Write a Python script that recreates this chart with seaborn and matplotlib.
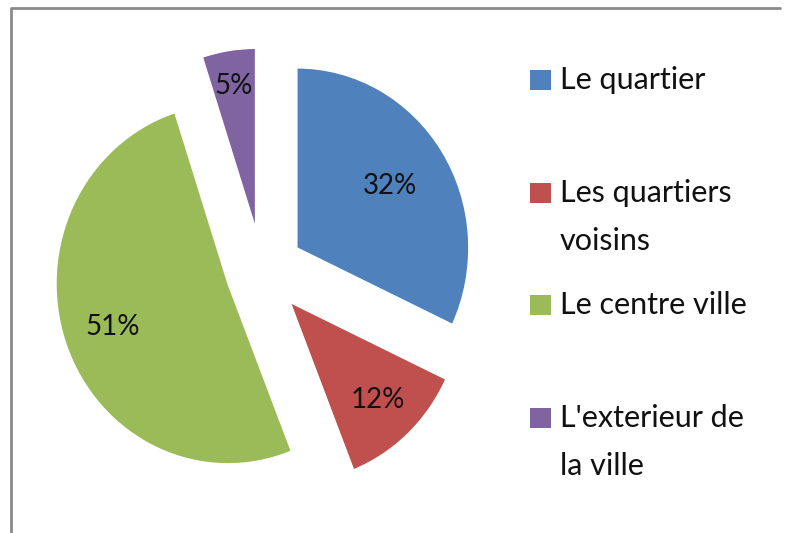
import numpy as np
import seaborn as sns
import matplotlib.pyplot as plt
from matplotlib.lines import Line2D
from matplotlib.patches import Rectangle

sns.set_style("white")
plt.rcParams['font.family'] = ['Lato', 'DejaVu Sans']

# data
labels = ["Le quartier", "Les quartiers\nvoisins", "Le centre ville", "L'exterieur de\nla ville"]
shares = [32, 12, 51, 5]
colors = ["#4F81BD", "#C0504D", "#9BBB59", "#8064A2"]

W, H = 787, 533
fig = plt.figure(figsize=(W / 100, H / 100), dpi=100)
ax = fig.add_axes([0, 0, 1, 1])

wedges, texts, autotexts = ax.pie(shares, colors=colors, startangle=90, counterclock=False,
                                  explode=[0.24, 0.24, 0.21, 0.24], radius=1, autopct='%d%%',
                                  textprops={'fontsize': 20, 'color': '#111111'})

# label distance per slice (Excel best fit)
label_dist = [0.64, 0.74, 0.71, 0.80]
for w, t, d in zip(wedges, autotexts, label_dist):
    ang = np.deg2rad((w.theta1 + w.theta2) / 2)
    cx, cy = w.center
    t.set_position((cx + d * np.cos(ang), cy + d * np.sin(ang)))

# place the pie in pixel terms (source image is slightly stretched vertically)
pcx, pcy, rx, ry = 262, 271, 172, 180
ax.set_aspect('auto')
ax.set_xlim(-pcx / rx, (W - pcx) / rx)
ax.set_ylim(-(H - pcy) / ry, pcy / ry)
ax.axis('off')

# legend drawn by hand
first_y = 80
step = 112.7
line_gap = 48
for i, (lab, col) in enumerate(zip(labels, colors)):
    y = first_y + i * step
    fig.patches.append(Rectangle((530 / W, 1 - (y + 10) / H), 21 / W, 20 / H,
                                 transform=fig.transFigure, facecolor=col, edgecolor='none'))
    for j, line in enumerate(lab.split("\n")):
        fig.text(560 / W, 1 - (y + j * line_gap) / H, line, fontsize=22,
                 color='#111111', va='center', ha='left')

# frame (only top and left visible)
fig.add_artist(Line2D([11 / W, 11 / W, 780 / W], [0, 1 - 8 / H, 1 - 8 / H],
                      transform=fig.transFigure, color='#8a8a8a', lw=2))

fig.savefig("out.png", dpi=100)
